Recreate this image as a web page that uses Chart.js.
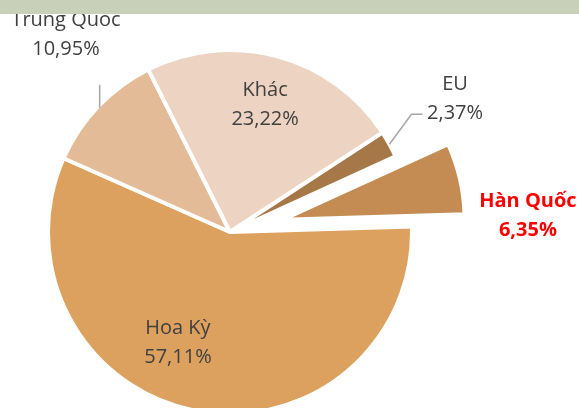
<!DOCTYPE html>
<html>
<head>
<meta charset="utf-8">
<script src="https://cdn.jsdelivr.net/npm/chart.js@4"></script>
<style>
  html, body { margin: 0; padding: 0; background: #fff; }
  #wrap { position: relative; width: 579px; height: 408px; overflow: hidden; }
  #topBar { position: absolute; left: 0; top: 0; width: 579px; height: 14px; background: #c8d0b9; z-index: 2; }
</style>
</head>
<body>
<div id="wrap">
  <canvas id="myChart" width="579" height="408"></canvas>
  <div id="topBar"></div>
</div>
<script>
// market shares (%)
const countries = ['Hoa Kỳ', 'Trung Quốc', 'Khác', 'EU', 'Hàn Quốc'];
const shares = [57.11, 10.95, 23.22, 2.37, 6.35];
const sliceColors = ['#dca15e', '#e4bb97', '#edd3c1', '#a67848', '#c48c52'];

// label placement around each slice: k = distance / radius, da = angle shift (deg)
const labelPlace = [
  { k: 0.703, da: 12.9, color: '#404040', bold: false },
  { k: 1.385, da: 5.8, color: '#404040', bold: false },
  { k: 0.695, da: 1.0, color: '#404040', bold: false },
  { k: 1.421, da: -0.7, color: '#404040', bold: false },
  { k: 1.638, da: 11.1, color: '#ff0000', bold: true },
];
const pulledSlice = 4;
const pullDist = 54;

const pct = (v) => v.toFixed(2).replace('.', ',') + '%';

const pullPlugin = {
  id: 'pull',
  afterUpdate(chart) {
    const arc = chart.getDatasetMeta(0).data[pulledSlice];
    const baseDraw = Object.getPrototypeOf(arc).draw;
    arc.draw = function (ctx, area) {
      const mid = (this.startAngle + this.endAngle) / 2;
      ctx.save();
      ctx.translate(Math.cos(mid) * pullDist, Math.sin(mid) * pullDist);
      baseDraw.call(this, ctx, area);
      ctx.restore();
    };
  },
};

const pieLabels = {
  id: 'pieLabels',
  afterDatasetsDraw(chart) {
    const ctx = chart.ctx;
    const arcs = chart.getDatasetMeta(0).data;
    ctx.save();
    ctx.textAlign = 'center';
    ctx.textBaseline = 'alphabetic';
    arcs.forEach((arc, i) => {
      const { x, y, startAngle, endAngle, outerRadius } = arc;
      const mid = (startAngle + endAngle) / 2;
      const p = labelPlace[i];
      const a = mid + p.da * Math.PI / 180;
      const lx = x + Math.cos(a) * p.k * outerRadius;
      const ly = y + Math.sin(a) * p.k * outerRadius;
      ctx.fillStyle = p.color;
      ctx.font = (p.bold ? 'bold ' : '') + '20px "Open Sans"';
      ctx.fillText(countries[i], lx, ly - 14.5);
      ctx.fillText(pct(shares[i]), lx, ly + 14.5);

      // leader lines
      ctx.strokeStyle = '#a6a6a6';
      ctx.lineWidth = 1.5;
      if (i === 3) {
        const x0 = x + Math.cos(mid) * outerRadius;
        const y0 = y + Math.sin(mid) * outerRadius;
        ctx.beginPath();
        ctx.moveTo(x0, y0);
        ctx.lineTo(x0 + 22, y0 - 30);
        ctx.lineTo(x0 + 33, y0 - 30);
        ctx.stroke();
      }
      if (i === 1) {
        const x0 = x + Math.cos(mid) * (outerRadius - 2);
        const y0 = y + Math.sin(mid) * (outerRadius - 2);
        ctx.beginPath();
        ctx.moveTo(x0, y0);
        ctx.lineTo(x0, y0 - 23);
        ctx.stroke();
      }
    });
    ctx.restore();
  },
};

const ctx = document.getElementById('myChart').getContext('2d');

new Chart(ctx, {
  type: 'pie',
  data: {
    labels: countries,
    datasets: [
      {
        data: shares,
        backgroundColor: sliceColors,
        borderColor: '#ffffff',
        borderWidth: 4,
        clip: false,
      },
    ],
  },
  options: {
    responsive: false,
    devicePixelRatio: 1,
    animation: false,
    events: [],
    rotation: 88.3,
    radius: 182,
    layout: { padding: { left: 0, right: 119, top: 56, bottom: 0 } },
    plugins: {
      legend: { display: false },
      tooltip: { enabled: false },
    },
  },
  plugins: [pullPlugin, pieLabels],
});
</script>
</body>
</html>
